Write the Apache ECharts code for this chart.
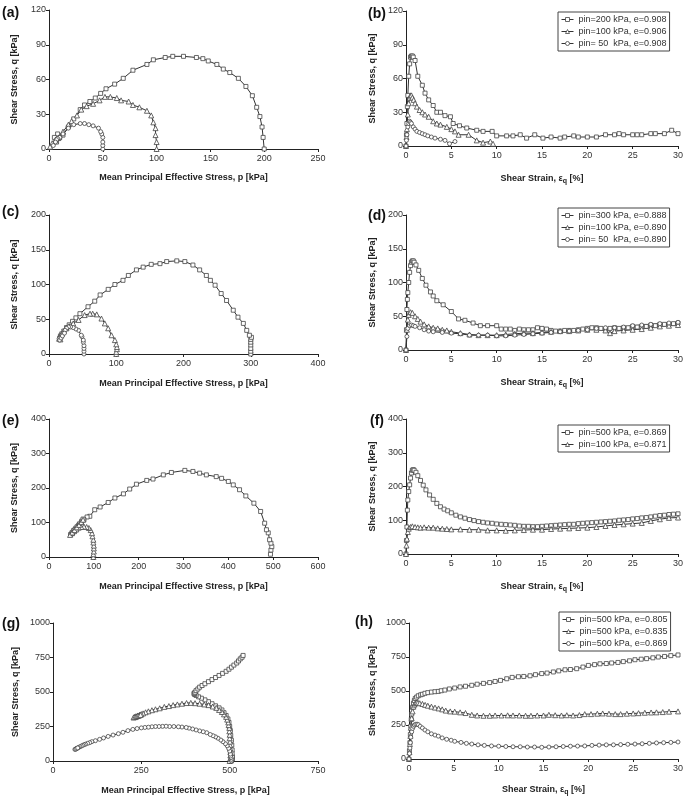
<!DOCTYPE html>
<html><head><meta charset="utf-8">
<script src="https://cdn.jsdelivr.net/npm/echarts@6.0.0/dist/echarts.min.js"></script>
<style>html,body{margin:0;padding:0;background:#fff}#c{width:685px;height:799px}</style>
</head><body><div id="c"></div>
<script>
// ---------- DATA ----------
const P_NAME = 'Mean Principal Effective Stress, p [kPa]';
const Q_NAME = 'Shear Stress, q [kPa]';
const E_NAME = 'Shear Strain, {e|\u03b5}{sub|q} [%]';

// (a) stress paths, e ~ 0.908
const a200 = [[200,0],[199,10],[198,19],[196,28],[193,36],[189,46],[183,54],[176,61],[168,66],[162,69],[156,73],[148,76],[143,78],[137,79],[125,80],[115,80],[108,79],[97,77],[91,73],[78,68],[69,61],[61,56],[53,52],[48,48],[43,44],[38,41],[33,38],[29,34],[23,26],[18,19],[13,12],[10,10],[8,13],[5,10],[7,6],[9,9]];
const a100 = [[100,0],[100,6],[99,12],[99,18],[97,23],[95,29],[91,33],[84,36],[78,38],[74,41],[67,42],[63,44],[57,45],[52,45],[47,42],[41,39],[35,37],[30,34],[26,29],[21,24],[18,21],[13,15],[9,10],[6,8],[3,5],[1,2]];
const a50 = [[50,0],[50,3],[50,6],[50,10],[49,13],[48,15],[46,18],[41,20],[37,21],[33,22],[29,22],[23,21],[18,18],[13,13],[10,10],[8,9],[7,8],[6,6],[4,3]];

// (b) q vs strain
const b200 = [[0,0],[0.05,10],[0.1,20],[0.15,35],[0.2,45],[0.3,62],[0.4,73],[0.5,79],[0.6,80],[0.7,80],[0.8,79],[1.0,76],[1.3,62],[1.8,54],[2.1,47],[2.5,41],[3.0,36],[3.4,30],[3.8,30],[4.3,27],[4.9,26],[5.2,20],[5.9,18],[6.7,16],[7.8,14],[8.5,13],[9.5,13],[10.0,9],[11.1,9],[11.8,9],[12.6,10],[13.3,7],[14.2,10],[15.1,7],[16.0,8],[17.0,7],[17.5,8],[18.5,9],[19.0,8],[20.0,8],[21.0,8],[22.0,10],[23.0,10],[23.5,11],[24.0,10],[25.0,10],[25.5,10],[26.0,10],[27.0,11],[27.5,11],[28.5,11],[29.3,14],[30.0,11]];
const b100 = [[0,0],[0.05,8],[0.1,15],[0.2,28],[0.3,38],[0.4,43],[0.5,45],[0.6,45],[0.7,43],[0.85,41],[1.0,38],[1.2,35],[1.5,32],[1.8,30],[2.1,28],[2.5,26],[3.0,22],[3.4,20],[3.8,19],[4.5,17],[5.0,15],[5.4,13],[5.8,10],[6.9,10],[7.8,5],[8.5,3],[9.3,4],[9.6,2]];
const b50 = [[0,0],[0.05,5],[0.1,10],[0.2,17],[0.3,20],[0.4,22],[0.5,21],[0.6,20],[0.8,17],[1.0,15],[1.2,13],[1.5,12],[1.8,11],[2.1,10],[2.4,9],[2.8,8],[3.2,7],[3.8,6],[4.3,5],[4.8,2],[5.4,4]];

// (c) stress paths, e ~ 0.89
const c300 = [[300,0],[300,4],[300,8],[300,13],[300,17],[300,21],[301,24],[298,27],[294,34],[289,44],[281,53],[274,63],[264,77],[256,87],[247,99],[240,106],[234,113],[224,121],[214,128],[202,133],[190,134],[175,133],[165,130],[152,129],[140,125],[130,121],[118,113],[110,106],[98,100],[88,93],[76,85],[68,76],[58,68],[46,58],[40,52],[35,47],[30,42],[26,38],[22,33],[19,29],[17,26],[16,23]];
const c100 = [[100,0],[100,3],[101,7],[101,10],[100,14],[98,20],[93,27],[88,37],[83,44],[78,51],[71,57],[65,58],[61,58],[53,56],[44,49],[36,44],[30,40],[26,37],[22,33],[19,29],[17,26],[15,22],[17,21]];
const c50 = [[52,0],[52,4],[52,8],[52,12],[51,17],[51,20],[49,25],[48,27],[44,34],[40,36],[36,38],[32,39],[29,39],[26,37],[24,34],[21,30],[19,27],[17,24],[15,22],[16,20],[18,23],[20,26],[23,30]];

// (d) q vs strain
const d300 = [[0,0],[0.05,30],[0.1,60],[0.15,75],[0.2,85],[0.3,100],[0.4,115],[0.5,125],[0.6,130],[0.7,132],[0.8,132],[0.9,130],[1.1,126],[1.4,118],[1.8,106],[2.2,96],[2.7,86],[3.0,80],[3.4,73],[4.1,67],[5.0,57],[5.8,46],[6.5,44],[7.4,40],[8.2,36],[9.0,36],[10.0,36],[10.5,31],[11.0,31],[11.5,31],[12.0,29],[12.5,31],[13.0,30],[13.5,30],[14.0,30],[14.5,33],[15.0,32],[15.5,31],[16.0,29],[16.5,28],[17.0,28],[17.5,29],[18.0,29],[18.5,29],[19.0,30],[19.5,31],[20.0,32],[20.5,33],[21.0,33],[21.5,32],[22,31],[22.5,32],[23,33],[23.5,32],[24,33],[24.5,33],[25,35],[25.5,34],[26,35],[26.5,35],[27,37],[27.5,36],[28,38],[28.5,38],[29,38],[29.5,39],[30,40]];
const d100 = [[0,0],[0.1,30],[0.2,45],[0.3,52],[0.5,56],[0.7,55],[1.0,50],[1.3,46],[1.6,42],[2.0,38],[2.5,35],[3.0,33],[3.5,32],[4.0,30],[4.5,29],[5.0,27],[6.0,25],[7.0,23],[8.0,22],[9.0,22],[10.0,22],[11.0,23],[12.0,24],[13.0,25],[14.0,25],[15.0,26],[16.0,27],[17.0,28],[18.0,28],[19.0,29],[20.0,30],[21.0,30],[22.0,29],[22.5,25],[23.0,28],[24.0,29],[25.0,30],[26.0,31],[27.0,33],[28.0,35],[29.0,36],[30.0,37]];
const d50 = [[0,0],[0.1,20],[0.2,32],[0.4,36],[0.6,37],[0.8,36],[1.0,35],[1.5,33],[2.0,30],[2.5,28],[3.0,27],[4.0,26],[5.0,25],[6.0,24],[7.0,22],[8.0,22],[9.0,22],[10.0,21],[11.0,21],[12.0,22],[13.0,23],[14.0,24],[15.0,25],[16.0,26],[17.0,27],[18.0,28],[19.0,29],[20.0,30],[21.0,32],[22.0,33],[23.0,33],[24.0,34],[25.0,36],[26.0,37],[27.0,38],[28.0,39],[29.0,40],[30.0,41]];

// (e) stress paths, e ~ 0.87
const e500 = [[494,8],[495,20],[497,30],[495,40],[492,50],[489,70],[485,79],[481,98],[472,132],[457,156],[439,177],[425,195],[411,209],[400,219],[385,228],[373,233],[351,238],[336,243],[321,248],[303,251],[273,245],[255,238],[232,226],[218,222],[195,211],[180,197],[166,183],[147,171],[132,158],[114,145],[102,137],[91,118],[85,116],[78,108],[72,100],[66,92],[60,84],[55,77],[51,70],[48,65],[53,72],[58,80],[63,88],[68,96],[73,104],[76,110]];
const e100 = [[99,0],[99,8],[100,16],[100,25],[100,33],[99,42],[99,50],[97,60],[96,69],[93,78],[89,84],[84,87],[78,88],[72,87],[66,85],[61,80],[56,75],[51,69],[47,64],[52,71],[57,78],[62,86],[67,93],[72,101],[76,108]];

// (f) q vs strain
const f500 = [[0,0],[0.05,40],[0.1,80],[0.15,130],[0.2,160],[0.3,185],[0.4,205],[0.5,225],[0.6,240],[0.7,248],[0.8,250],[0.9,248],[1.1,242],[1.3,232],[1.6,218],[1.9,204],[2.2,190],[2.6,175],[3.0,162],[3.4,150],[3.8,140],[4.2,133],[4.6,128],[5.0,122],[5.5,115],[6.0,110],[6.5,106],[7.0,102],[7.5,99],[8.0,96],[8.5,94],[9.0,92],[9.5,91],[10.0,89],[10.5,88],[11.0,87],[11.5,86],[12.0,85],[12.5,83],[13.0,82],[13.5,82],[14.0,81],[14.5,81],[15.0,82],[15.5,83],[16.0,84],[16.5,85],[17.0,86],[17.5,87],[18.0,88],[18.5,88],[19.0,90],[19.5,91],[20.0,92],[20.5,93],[21.0,94],[21.5,95],[22.0,96],[22.5,97],[23.0,98],[23.5,100],[24.0,101],[24.5,102],[25.0,104],[25.5,105],[26.0,107],[26.5,108],[27.0,110],[27.5,112],[28.0,114],[28.5,115],[29.0,117],[29.5,118],[30.0,119]];
const f100 = [[0,0],[0.05,25],[0.1,45],[0.2,65],[0.3,75],[0.5,80],[0.7,82],[1.0,80],[1.3,79],[1.6,78],[2.0,79],[2.5,78],[3.0,78],[3.5,76],[4.0,75],[4.5,74],[5.0,73],[6.0,73],[7.0,72],[8.0,72],[9.0,70],[10.0,70],[11.0,69],[12.0,70],[13.0,71],[14.0,72],[15.0,72],[16.0,74],[17.0,75],[18.0,76],[19.0,77],[20.0,78],[21.0,80],[22.0,83],[23.0,86],[24.0,88],[25.0,90],[26.0,92],[27.0,98],[28.0,103],[29.0,107],[30.0,108]];

// (g) stress paths, pin = 500 kPa
const g805 = [[505,0],[508,15],[508,30],[507,55],[507,80],[506,115],[505,150],[503,185],[502,220],[500,250],[498,280],[495,305],[490,330],[484,350],[478,370],[470,385],[460,400],[450,415],[440,430],[430,443],[420,455],[412,465],[405,475],[401,482],[399,488],[400,492],[402,498],[405,510],[410,522],[415,535],[422,547],[430,560],[440,575],[450,590],[460,605],[470,620],[480,635],[490,650],[498,665],[505,680],[512,695],[520,710],[525,725],[530,740],[535,752],[538,765]];
const g835 = [[500,0],[502,20],[502,40],[502,65],[502,90],[501,115],[501,140],[500,165],[500,190],[499,215],[499,240],[497,260],[496,280],[493,300],[490,320],[484,338],[478,355],[470,370],[462,385],[452,395],[440,405],[428,410],[415,415],[402,419],[390,421],[378,420],[365,415],[352,410],[340,405],[328,398],[315,392],[302,382],[290,375],[280,368],[270,360],[262,353],[255,345],[250,340],[245,335],[240,330],[235,325],[230,320],[228,315],[232,318],[236,322],[240,326],[244,330],[248,334]];
const g869 = [[505,0],[505,12],[504,24],[503,36],[502,50],[500,72],[497,92],[493,110],[488,125],[481,140],[475,152],[467,165],[460,175],[453,183],[445,192],[435,205],[425,212],[415,218],[405,225],[395,232],[385,238],[377,243],[365,246],[355,248],[342,250],[330,250],[320,252],[310,251],[300,250],[290,250],[280,248],[270,245],[260,243],[250,240],[238,235],[226,229],[212,220],[198,208],[185,198],[170,188],[156,178],[143,167],[132,157],[120,147],[110,140],[104,133],[98,128],[92,122],[88,118],[84,113],[80,108],[76,103],[72,97],[68,92],[65,88],[62,84],[64,86],[67,90],[70,95]];

// (h) q vs strain, pin = 500 kPa
const h805 = [[0,0],[0.05,60],[0.1,120],[0.15,180],[0.2,240],[0.25,290],[0.3,330],[0.4,380],[0.5,410],[0.6,430],[0.7,445],[0.85,455],[1.04,465],[1.3,472],[1.5,476],[1.78,483],[2.1,488],[2.5,492],[2.9,495],[3.27,497],[3.6,502],[4.0,507],[4.5,515],[5.1,522],[5.7,530],[6.3,535],[7.0,542],[7.6,550],[8.3,556],[9.0,562],[9.6,570],[10.2,578],[10.9,590],[11.5,600],[12.2,605],[12.8,607],[13.5,612],[14.1,620],[14.8,628],[15.4,632],[16.1,640],[16.7,648],[17.4,656],[18.0,658],[18.7,664],[19.4,676],[20.0,688],[20.7,694],[21.3,700],[22.0,702],[22.6,706],[23.3,710],[23.9,716],[24.6,722],[25.2,730],[25.9,734],[26.5,738],[27.2,744],[27.8,750],[28.5,754],[29.2,760],[30.0,765]];
const h835 = [[0,0],[0.05,50],[0.1,110],[0.15,170],[0.2,230],[0.3,300],[0.4,350],[0.5,385],[0.6,400],[0.7,410],[0.85,415],[1.0,414],[1.2,410],[1.5,405],[1.8,398],[2.1,392],[2.5,385],[2.9,378],[3.3,372],[3.7,365],[4.1,356],[4.6,350],[5.1,348],[5.7,343],[6.3,338],[7.0,325],[7.6,320],[8.3,318],[9.0,318],[9.6,320],[10.3,320],[11.0,321],[11.6,320],[12.3,320],[13.0,318],[13.6,318],[14.3,320],[15.0,320],[15.6,325],[16.3,322],[17.0,320],[17.6,322],[18.3,320],[19.0,323],[19.6,330],[20.3,330],[21.0,333],[21.6,335],[22.3,333],[23.0,330],[23.6,330],[24.3,333],[25.0,335],[25.6,337],[26.3,340],[27.0,342],[27.6,343],[28.3,345],[29.0,348],[30.0,350]];
const h869 = [[0,0],[0.05,40],[0.1,80],[0.15,120],[0.2,160],[0.3,200],[0.4,225],[0.5,240],[0.6,250],[0.75,255],[0.9,256],[1.05,252],[1.25,240],[1.5,228],[1.78,213],[2.1,200],[2.5,185],[2.9,176],[3.27,168],[3.7,155],[4.2,145],[4.7,138],[5.1,130],[5.8,122],[6.4,115],[7.0,110],[7.7,104],[8.4,100],[9.2,96],[10.0,94],[10.8,92],[11.6,90],[12.4,90],[13.2,88],[14.0,88],[14.8,86],[15.6,88],[16.4,90],[17.2,92],[18.0,94],[18.8,95],[19.6,96],[20.4,100],[21.2,102],[22.0,104],[22.8,104],[23.6,106],[24.4,108],[25.2,110],[26.0,112],[26.8,115],[27.6,118],[28.4,120],[29.2,122],[30.0,125]];

// legend labels
const legB = ['pin=200 kPa, e=0.908','pin=100 kPa, e=0.906','pin= 50  kPa, e=0.908'];
const legD = ['pin=300 kPa, e=0.888','pin=100 kPa, e=0.890','pin= 50  kPa, e=0.890'];
const legF = ['pin=500 kPa, e=0.869','pin=100 kPa, e=0.871'];
const legH = ['pin=500 kPa, e=0.805','pin=500 kPa, e=0.835','pin=500 kPa, e=0.869'];

// axis ranges [min, max, interval]
const xP_a = [0,250,50], xP_c = [0,400,100], xP_e = [0,600,100], xP_g = [0,750,250];
const xE = [0,30,5];
const yQ_ab = [0,120,30], yQ_cd = [0,200,50], yQ_ef = [0,400,100], yQ_gh = [0,1000,250];

// ---------- LAYOUT ----------
const FONT = '"Liberation Sans", Arial, sans-serif';
const panels = [
  {lab:'(a)', lx:2, ly:13, grid:{left:49,top:10,width:269,height:139}, x:xP_a, y:yQ_ab, xn:P_NAME, xg:24, yg:30,
   s:[['a1',a200,'rect'],['a2',a100,'triangle'],['a3',a50,'circle']]},
  {lab:'(b)', lx:368, ly:14, grid:{left:406,top:11,width:272,height:135}, x:xE, y:yQ_ab, xn:E_NAME, xg:27, yg:29,
   s:[['b1',b200,'rect'],['b2',b100,'triangle'],['b3',b50,'circle']], leg:{labels:legB,left:558,top:12}},
  {lab:'(c)', lx:2, ly:212, grid:{left:49,top:215,width:269,height:139}, x:xP_c, y:yQ_cd, xn:P_NAME, xg:25, yg:30,
   s:[['c1',c300,'rect'],['c2',c100,'triangle'],['c3',c50,'circle']]},
  {lab:'(d)', lx:368, ly:216, grid:{left:406,top:215,width:272,height:135}, x:xE, y:yQ_cd, xn:E_NAME, xg:27, yg:29,
   s:[['d1',d300,'rect'],['d2',d100,'triangle'],['d3',d50,'circle']], leg:{labels:legD,left:558,top:208}},
  {lab:'(e)', lx:2, ly:421, grid:{left:49,top:419,width:269,height:138}, x:xP_e, y:yQ_ef, xn:P_NAME, xg:25, yg:30,
   s:[['e1',e500,'rect'],['e2',e100,'triangle']]},
  {lab:'(f)', lx:370, ly:421, grid:{left:406,top:419,width:272,height:135}, x:xE, y:yQ_ef, xn:E_NAME, xg:27, yg:29,
   s:[['f1',f500,'rect'],['f2',f100,'triangle']], leg:{labels:legF,left:558,top:425}},
  {lab:'(g)', lx:2, ly:624, grid:{left:53,top:623,width:265,height:138}, x:xP_g, y:yQ_gh, xn:P_NAME, xg:25, yg:33,
   s:[['g1',g805,'rect'],['g2',g835,'triangle'],['g3',g869,'circle']]},
  {lab:'(h)', lx:355, ly:622, grid:{left:409,top:623,width:269,height:136}, x:xE, y:yQ_gh, xn:E_NAME, xg:25, yg:32,
   s:[['h1',h805,'rect'],['h2',h835,'triangle'],['h3',h869,'circle']], leg:{labels:legH,left:559,top:612}}
];

const nameMap = {};
const grids = [], xAxes = [], yAxes = [], series = [], legends = [], graphics = [];
const axisCommon = {
  type:'value',
  axisLine:{show:true, onZero:false, lineStyle:{color:'#222', width:1}},
  axisTick:{show:true, length:3, inside:false, lineStyle:{color:'#222', width:1}},
  splitLine:{show:false},
  nameLocation:'middle',
  nameTextStyle:{fontSize:9, fontWeight:'bold', color:'#222', fontFamily:FONT,
    rich:{e:{fontSize:9, fontWeight:'bold', color:'#222', fontFamily:FONT},
          sub:{fontSize:7, fontWeight:'bold', color:'#222', fontFamily:FONT, padding:[5,0,0,0]}}}
};
const plain = v => String(v);
panels.forEach((p, i) => {
  grids.push(Object.assign({containLabel:false, outerBoundsMode:'none'}, p.grid));
  xAxes.push(Object.assign({}, axisCommon, {gridIndex:i, min:p.x[0], max:p.x[1], interval:p.x[2],
    name:p.xn, nameGap:p.xg,
    axisLabel:{fontSize:9, color:'#333', fontFamily:FONT, margin:5, formatter:plain}}));
  yAxes.push(Object.assign({}, axisCommon, {gridIndex:i, min:p.y[0], max:p.y[1], interval:p.y[2],
    name:Q_NAME, nameGap:p.yg, nameRotate:90,
    axisLabel:{fontSize:9, color:'#333', fontFamily:FONT, margin:3, formatter:plain}}));
  p.s.forEach((s, k) => {
    if (p.leg) nameMap[s[0]] = p.leg.labels[k];
    series.push({
      type:'line', name:s[0], xAxisIndex:i, yAxisIndex:i, data:s[1],
      symbol:s[2], symbolSize:s[2]==='triangle'?5:4, showSymbol:true, showAllSymbol:true, clip:false,
      lineStyle:{color:'#333', width:1},
      itemStyle:{color:'#fff', borderColor:'#444', borderWidth:0.8},
      emphasis:{disabled:true}, silent:true, animation:false
    });
  });
  if (p.leg) {
    legends.push({
      left:p.leg.left, top:p.leg.top, orient:'vertical', data:p.s.map(s => s[0]),
      formatter:n => nameMap[n],
      itemWidth:12, itemHeight:5, itemGap:1, padding:[2,3],
      borderColor:'#444', borderWidth:1, backgroundColor:'#fff',
      itemStyle:{color:'#fff', borderColor:'#444', borderWidth:0.8},
      lineStyle:{color:'#333', width:1},
      textStyle:{fontSize:9, color:'#333', fontFamily:FONT, lineHeight:11},
      selectedMode:false
    });
  }
  graphics.push({type:'text', x:p.lx, y:p.ly,
    style:{text:p.lab, font:'bold 14px ' + FONT, fill:'#111', textVerticalAlign:'middle'}});
});

const chart = echarts.init(document.getElementById('c'), null, {renderer:'canvas'});
chart.setOption({
  animation:false, backgroundColor:'#fff',
  grid:grids, xAxis:xAxes, yAxis:yAxes, series:series, legend:legends, graphic:graphics
});
</script>
</body></html>
